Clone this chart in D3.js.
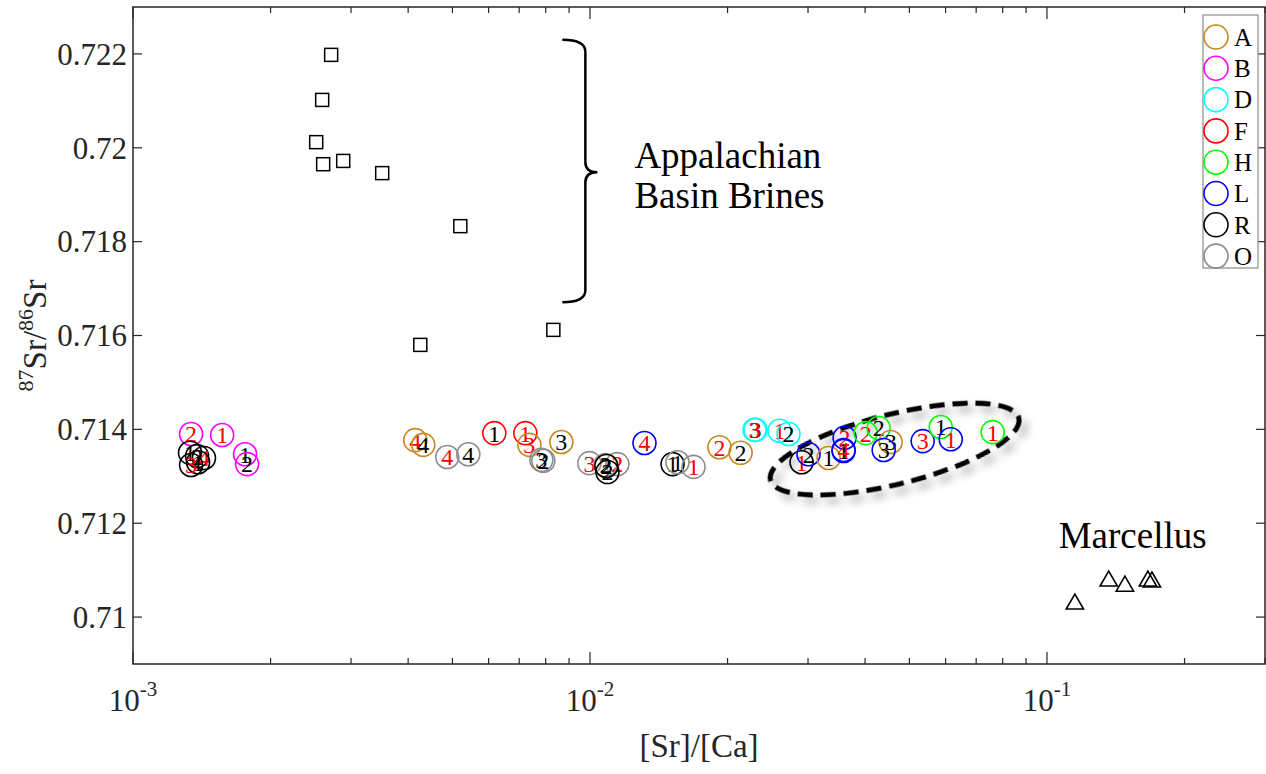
<!DOCTYPE html>
<html>
<head>
<meta charset="utf-8">
<script src="https://cdn.jsdelivr.net/npm/d3@7"></script>
<style>
  body { margin: 0; background: #fff; }
  text { font-family: "Liberation Serif", "Times New Roman", serif; fill: #262626; }
</style>
</head>
<body>
<div id="chart"></div>
<script>
// sites shown in the legend, and their marker colours
const sites = ["A", "B", "D", "F", "H", "L", "R", "O"];
const siteColors = ["#c8861c", "#ff00ff", "#00ffff", "#ff0000", "#00ff00", "#0000ff", "#000000", "#8c8c8c"];

// numbered samples: [site, number, red number (1) or black (0), [Sr]/[Ca], 87Sr/86Sr]
const samples = [
  ["B", 2, 1, 0.001340, 0.71390],
  ["B", 1, 1, 0.001567, 0.71388],
  ["R", 1, 0, 0.001333, 0.71350],
  ["R", 2, 0, 0.001381, 0.71343],
  ["R", 4, 1, 0.001430, 0.71339],
  ["R", 1, 0, 0.001388, 0.71330],
  ["R", 3, 1, 0.001340, 0.71324],
  ["B", 1, 0, 0.001759, 0.71347],
  ["B", 2, 0, 0.001777, 0.71326],
  ["A", 4, 1, 0.004146, 0.71377],
  ["A", 4, 0, 0.004317, 0.71367],
  ["O", 4, 1, 0.004872, 0.71341],
  ["O", 4, 0, 0.005417, 0.71347],
  ["F", 1, 0, 0.006175, 0.71392],
  ["F", 1, 1, 0.007220, 0.71392],
  ["A", 3, 1, 0.007368, 0.71367],
  ["A", 3, 0, 0.008657, 0.71373],
  ["O", 3, 0, 0.007827, 0.71335],
  ["O", 2, 0, 0.007906, 0.71333],
  ["O", 3, 1, 0.009970, 0.71328],
  ["O", 2, 1, 0.01148, 0.71326],
  ["O", 2, 0, 0.01081, 0.71324],
  ["R", 2, 0, 0.01086, 0.71322],
  ["R", 2, 0, 0.01092, 0.71309],
  ["L", 4, 1, 0.01316, 0.71371],
  ["R", 1, 0, 0.01516, 0.71326],
  ["O", 1, 0, 0.01554, 0.71330],
  ["O", 1, 1, 0.01685, 0.71320],
  ["A", 2, 1, 0.01920, 0.71362],
  ["A", 2, 0, 0.02136, 0.71350],
  ["D", 3, 0, 0.02303, 0.71399],
  ["D", 3, 1, 0.02291, 0.71399],
  ["D", 1, 1, 0.02599, 0.71397],
  ["D", 2, 0, 0.02719, 0.71390],
  ["R", 1, 1, 0.02904, 0.71330],
  ["L", 2, 0, 0.03008, 0.71347],
  ["A", 1, 0, 0.03328, 0.71339],
  ["L", 2, 1, 0.03607, 0.71382],
  ["L", 1, 0, 0.03589, 0.71354],
  ["L", 4, 1, 0.03589, 0.71356],
  ["H", 2, 1, 0.04011, 0.71392],
  ["H", 2, 0, 0.04282, 0.71403],
  ["A", 3, 0, 0.04549, 0.71373],
  ["L", 3, 0, 0.04392, 0.71356],
  ["L", 3, 1, 0.05346, 0.71375],
  ["H", 1, 0, 0.05855, 0.71405],
  ["L", 1, 1, 0.06158, 0.71379],
  ["H", 1, 1, 0.07608, 0.71394],
];

// Appalachian Basin brines (squares): [Sr]/[Ca], 87Sr/86Sr
const brineSrCa = [0.002714, 0.002594, 0.002517, 0.002607, 0.002884, 0.003510, 0.005203, 0.004253, 0.008314];
const brineRatio = [0.72198, 0.72102, 0.72012, 0.71965, 0.71972, 0.71946, 0.71833, 0.71580, 0.71612];

// Marcellus (triangles)
const marcellusSrCa = [0.1151, 0.1365, 0.1481, 0.1663, 0.1697];
const marcellusRatio = [0.71032, 0.71081, 0.71070, 0.71081, 0.71079];

// axis ticks
const yTicks = [0.71, 0.712, 0.714, 0.716, 0.718, 0.72, 0.722];
const yTickLabels = ["0.71", "0.712", "0.714", "0.716", "0.718", "0.72", "0.722"];
const xDecades = [0.001, 0.01, 0.1];
const xDecadeExp = ["-3", "-2", "-1"];

// annotations: brace over the brines, dashed ellipse round the end-member samples
const brace = { x: 0.00977, xEnd: 0.0087, xTip: 0.01038, top: 0.72230, mid: 0.71948, bottom: 0.71671 };
const ellipseCentre = { x: 0.04642, y: 0.71358 };
const marcellusLabel = { x: 0.1061, y: 0.71147 };

const W = 1266, H = 774;
const margin = { top: 7, right: 1, bottom: 110, left: 133 };

const svg = d3.select("#chart").append("svg")
  .attr("width", W).attr("height", H);

const x = d3.scaleLog().domain([0.001, 0.3]).range([margin.left, W - margin.right]);
const y = d3.scaleLinear().domain([0.709, 0.723]).range([H - margin.bottom, margin.top]);

const axisColor = "#262626";
const x0 = x.range()[0], x1 = x.range()[1];
const y0 = y.range()[0], y1 = y.range()[1];

// drop shadow for the ellipse
const defs = svg.append("defs");
const f = defs.append("filter").attr("id", "shadow")
  .attr("x", "-20%").attr("y", "-40%").attr("width", "140%").attr("height", "180%");
f.append("feDropShadow").attr("dx", 4).attr("dy", 7).attr("stdDeviation", 4)
  .attr("flood-color", "#000").attr("flood-opacity", 0.35);

// ticks (inside, mirrored on top / right)
const gTicks = svg.append("g").attr("stroke", axisColor).attr("stroke-width", 1.2);
x.ticks().filter((t) => t >= 0.001 && t <= 0.3).forEach((t) => {
  const major = xDecades.some((d) => Math.abs(d - t) / d < 1e-6);
  const len = major ? 12 : 6;
  gTicks.append("line").attr("x1", x(t)).attr("x2", x(t)).attr("y1", y0).attr("y2", y0 - len);
  gTicks.append("line").attr("x1", x(t)).attr("x2", x(t)).attr("y1", y1).attr("y2", y1 + len);
});
yTicks.forEach((t) => {
  gTicks.append("line").attr("x1", x0).attr("x2", x0 + 9).attr("y1", y(t)).attr("y2", y(t));
  gTicks.append("line").attr("x1", x1).attr("x2", x1 - 9).attr("y1", y(t)).attr("y2", y(t));
});

// frame
svg.append("rect")
  .attr("x", x0).attr("y", y1).attr("width", x1 - x0).attr("height", y0 - y1)
  .attr("fill", "none").attr("stroke", axisColor).attr("stroke-width", 1.5);

// y tick labels
yTicks.forEach((t, i) => {
  svg.append("text").attr("x", x0 - 6).attr("y", y(t)).attr("dy", "0.35em")
    .attr("text-anchor", "end").attr("font-size", 31).text(yTickLabels[i]);
});

// x tick labels
xDecades.forEach((t, i) => {
  const lbl = svg.append("text").attr("x", x(t)).attr("y", 711)
    .attr("text-anchor", "middle").attr("font-size", 31);
  lbl.append("tspan").text("10");
  lbl.append("tspan").attr("dy", -15).attr("font-size", 21).text(xDecadeExp[i]);
});

// axis titles
svg.append("text").attr("x", (x0 + x1) / 2).attr("y", 757)
  .attr("text-anchor", "middle").attr("font-size", 33).text("[Sr]/[Ca]");

const yl = svg.append("text")
  .attr("transform", `translate(46,${(y0 + y1) / 2}) rotate(-90)`)
  .attr("text-anchor", "middle").attr("font-size", 33);
yl.append("tspan").attr("font-size", 22).attr("dy", -13).text("87");
yl.append("tspan").attr("dy", 13).text("Sr/");
yl.append("tspan").attr("font-size", 22).attr("dy", -13).text("86");
yl.append("tspan").attr("dy", 13).text("Sr");

// dashed ellipse
svg.append("ellipse")
  .attr("transform", `translate(${x(ellipseCentre.x)},${y(ellipseCentre.y)}) rotate(-14)`)
  .attr("rx", 128).attr("ry", 35)
  .attr("fill", "none").attr("stroke", "#000").attr("stroke-width", 5)
  .attr("stroke-dasharray", "15 8").attr("filter", "url(#shadow)");

// brines
svg.append("g").selectAll("rect").data(brineSrCa).join("rect")
  .attr("x", (d) => x(d) - 6.5).attr("y", (d, i) => y(brineRatio[i]) - 6.5)
  .attr("width", 13).attr("height", 13)
  .attr("fill", "none").attr("stroke", "#000").attr("stroke-width", 1.5);

// Marcellus
const tri = d3.symbol().type(d3.symbolTriangle).size(130);
svg.append("g").selectAll("path").data(marcellusSrCa).join("path")
  .attr("d", tri)
  .attr("transform", (d, i) => `translate(${x(d)},${y(marcellusRatio[i]) + 2})`)
  .attr("fill", "none").attr("stroke", "#000").attr("stroke-width", 1.6);

// numbered samples
const colorOf = (s) => siteColors[sites.indexOf(s)];
const gS = svg.append("g");
samples.forEach((d) => {
  const cx = x(d[3]), cy = y(d[4]);
  gS.append("circle").attr("cx", cx).attr("cy", cy).attr("r", 11.5)
    .attr("fill", "none").attr("stroke", colorOf(d[0])).attr("stroke-width", 1.6);
  gS.append("text").attr("x", cx).attr("y", cy).attr("dy", "0.35em")
    .attr("text-anchor", "middle").attr("font-size", 24)
    .style("fill", d[2] ? "#ff0000" : "#000").text(d[1]);
});

// brace
const bx = x(brace.x), bxe = x(brace.xEnd), bxt = x(brace.xTip);
const bt = y(brace.top), bm = y(brace.mid), bb = y(brace.bottom);
svg.append("path")
  .attr("d", `M${bxe},${bt} Q${bx},${bt} ${bx},${bt + 12} L${bx},${bm - 10} Q${bx},${bm} ${bxt},${bm} ` +
    `Q${bx},${bm} ${bx},${bm + 10} L${bx},${bb - 12} Q${bx},${bb} ${bxe},${bb}`)
  .attr("fill", "none").attr("stroke", "#000").attr("stroke-width", 2.5);

svg.append("text").attr("x", bxt + 37).attr("y", bm - 4).attr("font-size", 37)
  .style("fill", "#000").text("Appalachian");
svg.append("text").attr("x", bxt + 37).attr("y", bm + 36).attr("font-size", 37)
  .style("fill", "#000").text("Basin Brines");
svg.append("text").attr("x", x(marcellusLabel.x)).attr("y", y(marcellusLabel.y)).attr("font-size", 37)
  .style("fill", "#000").text("Marcellus");

// legend
const lg = svg.append("g").attr("transform", "translate(1203,15)");
lg.append("rect").attr("width", 55).attr("height", 253)
  .attr("fill", "#fff").attr("stroke", "#8c8c8c").attr("stroke-width", 1.2);
sites.forEach((s, i) => {
  const ry = 22 + i * 31.3;
  lg.append("circle").attr("cx", 13).attr("cy", ry).attr("r", 12)
    .attr("fill", "none").attr("stroke", siteColors[i]).attr("stroke-width", 1.6);
  lg.append("text").attr("x", 31).attr("y", ry).attr("dy", "0.35em")
    .attr("font-size", 25).style("fill", "#000").text(s);
});
</script>
</body>
</html>
